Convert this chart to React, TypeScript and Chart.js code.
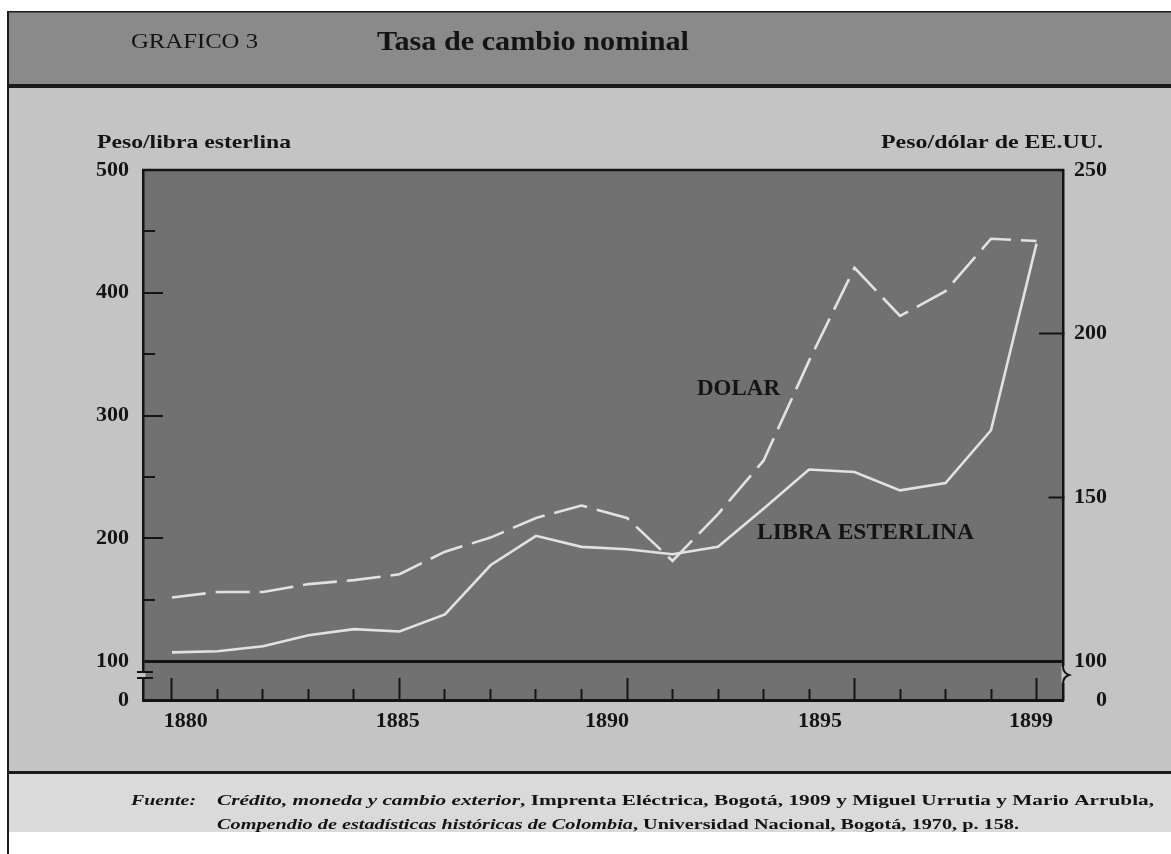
import React, { useEffect, useRef } from 'react';
import { Chart, registerables } from 'chart.js';

Chart.register(...registerables);

// ---------- data ----------
const years = [1880, 1881, 1882, 1883, 1884, 1885, 1886, 1887, 1888, 1889, 1890, 1891, 1892, 1893, 1894, 1895, 1896, 1897, 1898, 1899];
// Peso / libra esterlina (left axis)
const libraEsterlina = [107, 108, 112, 121, 126, 124, 138, 178, 202, 193, 191, 187, 193, 224, 256, 254, 239, 245, 288, 440];
// Peso / dólar de EE.UU. (right axis)
const dolar = [119.4, 121.1, 121.1, 123.5, 124.7, 126.5, 133.4, 137.7, 143.7, 147.5, 143.7, 130.6, 144.9, 161.2, 191.7, 220.1, 205.4, 213, 229, 228.3];

const xMajorYears = [1880, 1885, 1890, 1895, 1899];
const xLabelTexts = ['1880', '1885', '1890', '1895', '1899'];
const xLabelAt = [1880.3, 1884.96, 1889.56, 1894.24, 1898.88];

const leftTicks = [100, 150, 200, 250, 300, 350, 400, 450, 500];
const leftLabelled = [100, 200, 300, 400, 500];
const rightTicks = [100, 150, 200, 250];
const rightLongTicks = [200];
const rightShortTicks = [150];
const breakLabel = '0';

// ---------- layout constants ----------
const W = 1171;
const H = 854;
const X_MIN = 1879.363;
const X_MAX = 1899.582;
const YL_MIN = 68.23; // broken axis: bottom of plot shown as "0"
const YL_MAX = 500;
const YR_MIN = 88.09;
const YR_MAX = 250;

const SERIF = '"Liberation Serif", "Times New Roman", serif';
const INK = '#141414';
const LINE = '#e2e2e2';
const PAGE = '#c4c4c4';

type Run = { t: string; f: string };

function drawRuns(ctx: CanvasRenderingContext2D, runs: Run[], x: number, baseline: number, width: number) {
  let total = 0;
  const widths: number[] = [];
  for (const r of runs) {
    ctx.font = r.f;
    const w = ctx.measureText(r.t).width;
    widths.push(w);
    total += w;
  }
  const s = width / total;
  ctx.save();
  ctx.translate(x, baseline);
  ctx.scale(s, 1);
  ctx.textBaseline = 'alphabetic';
  ctx.textAlign = 'left';
  ctx.fillStyle = INK;
  let cx = 0;
  runs.forEach((r, i) => {
    ctx.font = r.f;
    ctx.fillText(r.t, cx, 0);
    cx += widths[i];
  });
  ctx.restore();
}

const pagePlugin = {
  id: 'pagePlugin',
  beforeDraw(chart: any) {
    const ctx: CanvasRenderingContext2D = chart.ctx;
    const a = chart.chartArea;
    ctx.save();
    ctx.fillStyle = '#ffffff';
    ctx.fillRect(0, 0, W, H);
    // header band
    ctx.fillStyle = '#8a8a8a';
    ctx.fillRect(9, 12, W - 9, 73);
    ctx.fillStyle = '#1a1a1a';
    ctx.fillRect(9, 84, W - 9, 4);
    // page
    ctx.fillStyle = PAGE;
    ctx.fillRect(9, 88, W - 9, 683);
    ctx.fillStyle = '#1a1a1a';
    ctx.fillRect(9, 771, W - 9, 3);
    // footer
    ctx.fillStyle = '#dadada';
    ctx.fillRect(9, 774, W - 9, 58);
    // outer frame lines
    ctx.fillStyle = '#1a1a1a';
    ctx.fillRect(7, 11, 2, H - 11);
    ctx.fillRect(7, 11, W - 7, 1.5);
    // plot fill
    ctx.fillStyle = '#717171';
    ctx.fillRect(a.left, a.top, a.right - a.left, a.bottom - a.top);
    ctx.restore();
  },
  afterDraw(chart: any) {
    const ctx: CanvasRenderingContext2D = chart.ctx;
    const a = chart.chartArea;
    ctx.save();
    // top border of plot
    ctx.strokeStyle = INK;
    ctx.lineWidth = 2.5;
    ctx.beginPath();
    ctx.moveTo(a.left - 1, a.top);
    ctx.lineTo(a.right + 1, a.top);
    ctx.stroke();

    // left axis break "="
    const yb = chart.scales.y.getPixelForValue(YL_MIN) - 26;
    ctx.fillStyle = PAGE;
    ctx.fillRect(a.left - 2.5, yb - 1, 5, 5);
    ctx.lineWidth = 2;
    ctx.beginPath();
    ctx.moveTo(a.left - 6, yb - 2);
    ctx.lineTo(a.left + 10, yb - 2);
    ctx.moveTo(a.left - 6, yb + 4);
    ctx.lineTo(a.left + 10, yb + 4);
    ctx.stroke();

    // right axis break "}"
    ctx.fillStyle = PAGE;
    ctx.fillRect(a.right - 1.5, yb - 8, 4, 17);
    ctx.beginPath();
    ctx.moveTo(a.right, yb - 8);
    ctx.quadraticCurveTo(a.right, yb - 1, a.right + 6, yb + 1);
    ctx.quadraticCurveTo(a.right, yb + 3, a.right, yb + 10);
    ctx.stroke();
    ctx.restore();

    // titles
    drawRuns(ctx, [{ t: 'GRAFICO 3', f: `21px ${SERIF}` }], 131, 48, 127);
    drawRuns(ctx, [{ t: 'Tasa de cambio nominal', f: `bold 28px ${SERIF}` }], 377, 50, 312);
    drawRuns(ctx, [{ t: 'Peso/libra esterlina', f: `bold 19px ${SERIF}` }], 97, 148, 194);
    drawRuns(ctx, [{ t: 'Peso/dólar de EE.UU.', f: `bold 19px ${SERIF}` }], 881, 148, 222);
    // series labels
    drawRuns(ctx, [{ t: 'DOLAR', f: `bold 23px ${SERIF}` }], 697, 395, 83);
    drawRuns(ctx, [{ t: 'LIBRA ESTERLINA', f: `bold 23px ${SERIF}` }], 757, 539, 217);
    // footnote
    drawRuns(ctx, [{ t: 'Fuente:', f: `italic bold 15px ${SERIF}` }], 131, 805, 65);
    drawRuns(
      ctx,
      [
        { t: 'Crédito, moneda y cambio exterior', f: `italic bold 15px ${SERIF}` },
        { t: ', Imprenta Eléctrica, Bogotá, 1909 y Miguel Urrutia y Mario Arrubla,', f: `bold 15px ${SERIF}` },
      ],
      217,
      805,
      937
    );
    drawRuns(
      ctx,
      [
        { t: 'Compendio de estadísticas históricas de Colombia', f: `italic bold 15px ${SERIF}` },
        { t: ', Universidad Nacional, Bogotá, 1970, p. 158.', f: `bold 15px ${SERIF}` },
      ],
      217,
      829,
      802
    );
  },
};

const tickFont = { family: SERIF, size: 22, weight: 'bold' as const };

export default function App() {
  const ref = useRef<HTMLCanvasElement | null>(null);

  useEffect(() => {
    if (!ref.current) return;
    const chart = new Chart(ref.current, {
      type: 'line',
      data: {
        datasets: [
          {
            label: 'Libra esterlina',
            data: years.map((yr, i) => ({ x: yr, y: libraEsterlina[i] })),
            xAxisID: 'x',
            yAxisID: 'y',
            borderColor: LINE,
            borderWidth: 2.6,
            pointRadius: 0,
            fill: false,
            tension: 0,
          },
          {
            label: 'Dólar',
            data: years.map((yr, i) => ({ x: yr, y: dolar[i] })),
            xAxisID: 'x',
            yAxisID: 'y1',
            borderColor: LINE,
            borderWidth: 2.6,
            borderDash: [34, 10],
            pointRadius: 0,
            fill: false,
            tension: 0,
          },
        ],
      },
      options: {
        responsive: false,
        animation: false,
        devicePixelRatio: 1,
        layout: { padding: { top: 170, bottom: 114, left: 0, right: 64 } },
        plugins: {
          legend: { display: false },
          tooltip: { enabled: false },
          title: { display: false },
        },
        scales: {
          x: {
            type: 'linear',
            position: 'bottom',
            min: X_MIN,
            max: X_MAX,
            afterBuildTicks: (s: any) => {
              s.ticks = years.map((v) => ({ value: v }));
            },
            afterFit: (s: any) => {
              s.height = 0;
            },
            ticks: { display: false, autoSkip: false },
            grid: {
              drawOnChartArea: false,
              drawTicks: true,
              tickLength: -22,
              tickWidth: 2,
              tickColor: INK,
              tickBorderDash: (c: any) => (xMajorYears.includes(c.tick?.value) ? [] : [13, 100]),
            },
            border: { display: true, color: INK, width: 3 },
          },
          xl: {
            type: 'linear',
            position: 'bottom',
            min: X_MIN,
            max: X_MAX,
            afterBuildTicks: (s: any) => {
              s.ticks = xLabelAt.map((v) => ({ value: v }));
            },
            afterFit: (s: any) => {
              s.height = 40;
            },
            ticks: {
              autoSkip: false,
              maxRotation: 0,
              padding: 0,
              color: INK,
              font: tickFont,
              callback: (_v: any, i: number) => xLabelTexts[i],
            },
            grid: { display: false },
            border: { display: false },
          },
          y: {
            type: 'linear',
            position: 'left',
            min: YL_MIN,
            max: YL_MAX,
            afterBuildTicks: (s: any) => {
              s.ticks = [YL_MIN, ...leftTicks].map((v) => ({ value: v }));
            },
            afterFit: (s: any) => {
              s.width = 143;
            },
            ticks: {
              autoSkip: false,
              padding: 34,
              color: INK,
              font: tickFont,
              callback: (v: any) => (v === YL_MIN ? breakLabel : leftLabelled.includes(v) ? String(v) : ''),
            },
            grid: {
              drawOnChartArea: true,
              drawTicks: true,
              tickLength: -20,
              tickWidth: 2,
              color: (c: any) => (c.tick?.value === 100 ? INK : 'rgba(0,0,0,0)'),
              lineWidth: (c: any) => (c.tick?.value === 100 ? 3 : 0),
              tickColor: (c: any) => {
                const v = c.tick?.value;
                return v === YL_MIN || v === 100 || v === 500 ? 'rgba(0,0,0,0)' : INK;
              },
              tickBorderDash: (c: any) => (leftLabelled.includes(c.tick?.value) ? [] : [0, 8, 12, 100]),
            },
            border: { display: true, color: INK, width: 2.5 },
          },
          y1: {
            type: 'linear',
            position: 'right',
            min: YR_MIN,
            max: YR_MAX,
            afterBuildTicks: (s: any) => {
              s.ticks = [YR_MIN, ...rightTicks].map((v) => ({ value: v }));
            },
            afterFit: (s: any) => {
              s.width = 44;
            },
            ticks: {
              autoSkip: false,
              padding: 34,
              crossAlign: 'far',
              color: INK,
              font: tickFont,
              callback: (v: any) => (v === YR_MIN ? breakLabel : String(v)),
            },
            grid: {
              drawOnChartArea: false,
              drawTicks: true,
              tickLength: -24,
              tickWidth: 2,
              tickColor: (c: any) => {
                const v = c.tick?.value;
                return rightLongTicks.includes(v) || rightShortTicks.includes(v) ? INK : 'rgba(0,0,0,0)';
              },
              tickBorderDash: (c: any) => (rightShortTicks.includes(c.tick?.value) ? [16, 100] : []),
            },
            border: { display: true, color: INK, width: 2.5 },
          },
        },
      } as any,
      plugins: [pagePlugin],
    });
    return () => chart.destroy();
  }, []);

  return (
    <div style={{ position: 'absolute', left: 0, top: 0, width: W, height: H }}>
      <canvas ref={ref} width={W} height={H} style={{ display: 'block', width: W, height: H }} />
    </div>
  );
}
